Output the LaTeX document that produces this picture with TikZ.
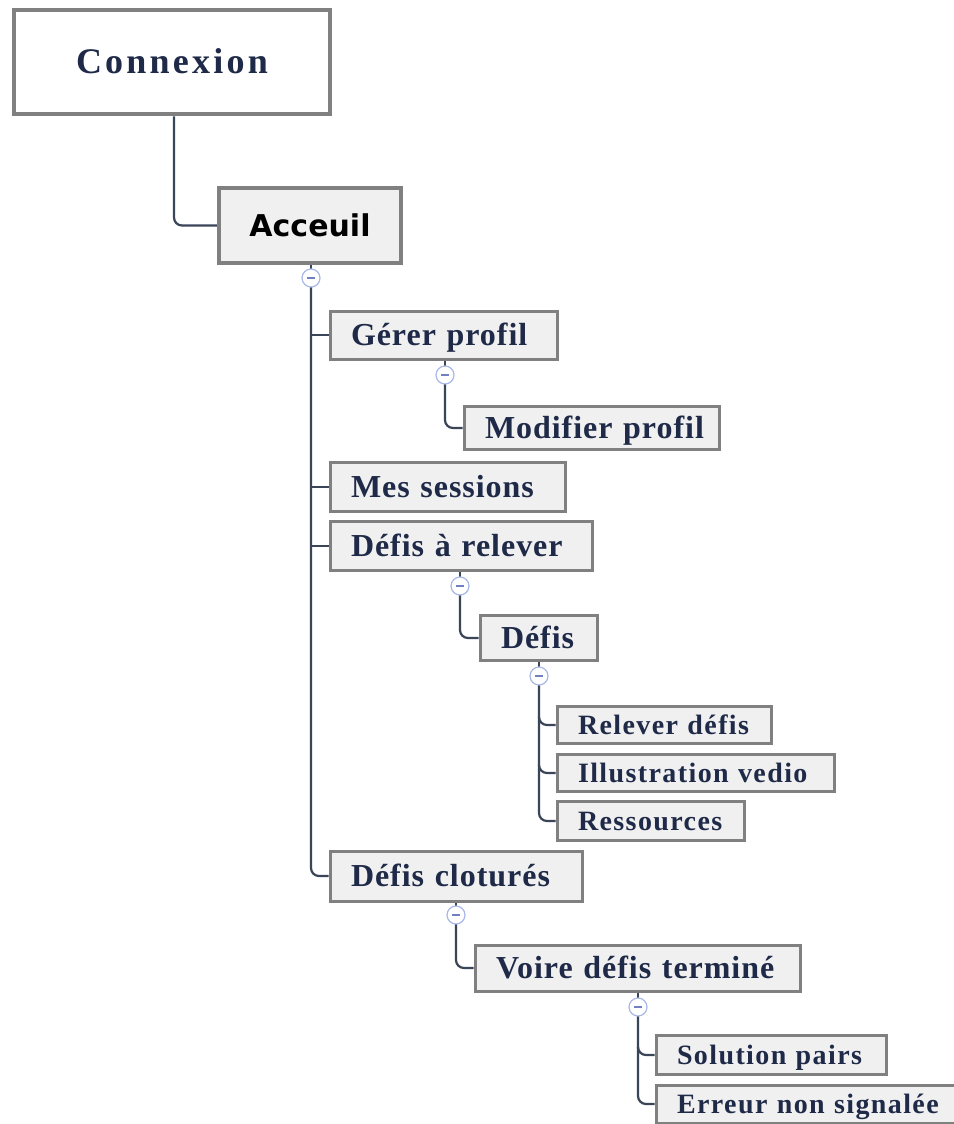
\documentclass[tikz,border=0pt]{standalone}
\usepackage{fontspec}
\setmainfont{Liberation Serif}
\newfontfamily\rootfont{DejaVu Sans}
\newfontfamily\titlefont[LetterSpace=9]{Liberation Serif}
\newfontfamily\itemfont[LetterSpace=3]{Liberation Serif}
\newfontfamily\smallitemfont[LetterSpace=5]{Liberation Serif}
\definecolor{boxline}{HTML}{808080}
\definecolor{boxfill}{HTML}{F0F0F0}
\definecolor{ink}{HTML}{1F2A48}
\definecolor{wire}{HTML}{3A4558}
\definecolor{knob}{HTML}{A8B8E8}
\definecolor{knobbar}{HTML}{7080C0}
\tikzset{
  topbox/.style={draw=boxline, line width=4.5pt, fill=white, inner sep=0pt,
    text=ink, text height=24pt, text depth=0pt,
    font=\titlefont\fontsize{36}{36}\selectfont\bfseries},
  homebox/.style={draw=boxline, line width=4.5pt, fill=boxfill, inner sep=0pt,
    text=black, text height=22pt, text depth=0pt,
    font=\rootfont\fontsize{30}{30}\selectfont\bfseries},
  % boxes whose label sits at the left, 21pt in from the border, on one line
  itembox/.style={draw=boxline, line width=3pt, fill=boxfill, inner xsep=21pt, inner ysep=0pt,
    align=left, text=ink, text height=21pt, text depth=0pt,
    execute at begin node=\hbox\bgroup, execute at end node=\egroup,
    font=\itemfont\fontsize{32}{32}\selectfont\bfseries, anchor=west},
  smallbox/.style={itembox, text height=18.5pt,
    font=\smallitemfont\fontsize{28}{28}\selectfont\bfseries},
  wire/.style={draw=wire, line width=2.2pt, rounded corners=8pt},
  stub/.style={draw=wire, line width=2.2pt},
  knob/.style={circle, draw=knob, line width=1.2pt, fill=white, minimum size=18pt, inner sep=0pt,
    path picture={\draw[knobbar, line width=1.3pt] ([xshift=-4pt]path picture bounding box.center) -- ([xshift=4pt]path picture bounding box.center);}}
}
\begin{document}
\begin{tikzpicture}[x=1pt,y=-1pt]
\useasboundingbox[fill=white] (0,0) rectangle (953,1124);

% top level
\node[topbox, minimum width=316pt, minimum height=104pt] (connexion) at (172,62) {Connexion};
\node[homebox, minimum width=182pt, minimum height=75pt] (accueil) at (310,225.5) {Acceuil};

% menu entries (left edge of the border path, centre line)
\node[itembox, text width=185pt, minimum height=48pt] (gerer) at (328.5,335) {Gérer profil};
\node[itembox, text width=213pt, minimum height=43pt] (modifier) at (462.5,428) {Modifier profil};
\node[itembox, text width=193pt, minimum height=49pt] (sessions) at (328.5,487) {Mes sessions};
\node[itembox, text width=220pt, minimum height=49pt] (relever) at (328.5,546) {Défis à relever};
\node[itembox, text width=75pt, minimum height=45pt] (defis) at (478.5,638) {Défis};
\node[smallbox, text width=172pt, minimum height=37pt] (relevedefis) at (555.5,725) {Relever défis};
\node[smallbox, text width=235pt, minimum height=37pt] (illustration) at (555.5,773) {Illustration vedio};
\node[smallbox, text width=145pt, minimum height=39pt] (ressources) at (555.5,821) {Ressources};
\node[itembox, text width=210pt, minimum height=50pt] (clotures) at (328.5,876) {Défis cloturés};
\node[itembox, text width=283pt, minimum height=46pt] (voire) at (473.5,968) {Voire défis terminé};
\node[smallbox, text width=188pt, minimum height=39pt] (solution) at (654.5,1055) {Solution pairs};
\node[smallbox, text width=270pt, minimum height=38pt] (erreur) at (654.5,1104) {Erreur non signalée};

% collapse knobs under each parent
\coordinate (kacc) at (311,278);
\coordinate (kger) at (445,375);
\coordinate (krel) at (460,586);
\coordinate (kdef) at (539,676);
\coordinate (kclo) at (456,915);
\coordinate (kvoi) at (638,1007);

% connectors
\draw[wire] (connexion.south -| 174,0) |- (accueil.west);
\draw[stub] (accueil.south -| kacc) -- (kacc);
\draw[wire] (kacc) |- (clotures.west);
\draw[stub] (kacc |- gerer.west) -- (gerer.west);
\draw[stub] (kacc |- sessions.west) -- (sessions.west);
\draw[stub] (kacc |- relever.west) -- (relever.west);

\draw[stub] (gerer.south -| kger) -- (kger);
\draw[wire] (kger) |- (modifier.west);

\draw[stub] (relever.south -| krel) -- (krel);
\draw[wire] (krel) |- (defis.west);

\draw[stub] (defis.south -| kdef) -- (kdef);
\draw[wire] (kdef) |- (ressources.west);
\draw[wire] (kdef |- relevedefis.west) ++(0,-7) |- (relevedefis.west);
\draw[wire] (kdef |- illustration.west) ++(0,-7) |- (illustration.west);

\draw[stub] (clotures.south -| kclo) -- (kclo);
\draw[wire] (kclo) |- (voire.west);

\draw[stub] (voire.south -| kvoi) -- (kvoi);
\draw[wire] (kvoi) |- (erreur.west);
\draw[wire] (kvoi |- solution.west) ++(0,-7) |- (solution.west);

\foreach \k in {kacc,kger,krel,kdef,kclo,kvoi}
  \node[knob] at (\k) {};
\end{tikzpicture}
\end{document}
